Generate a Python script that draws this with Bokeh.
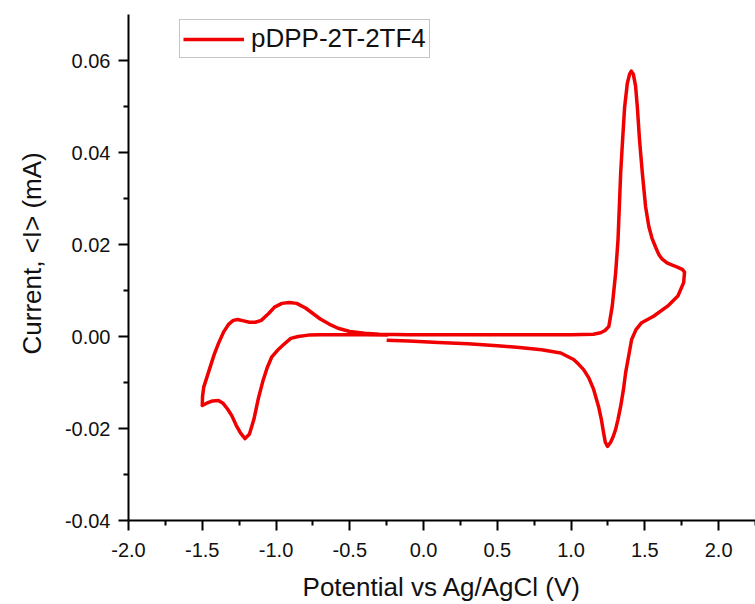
from bokeh.plotting import figure
from bokeh.models import FixedTicker, NumeralTickFormatter, Range1d, Title
from bokeh.embed import file_html
from bokeh.resources import INLINE

# Cyclic voltammogram of pDPP-2T-2TF4 (potential in V vs Ag/AgCl, current in mA)
potential = [
    -0.24, -0.40, -0.55, -0.70, -0.78, -0.85, -0.90, -0.95, -0.99, -1.03,
    -1.06, -1.09, -1.12, -1.15, -1.18, -1.21, -1.24, -1.27, -1.30, -1.33,
    -1.36, -1.39, -1.43, -1.47, -1.50,
    -1.498, -1.49, -1.47, -1.445, -1.42, -1.39, -1.355, -1.32, -1.29, -1.26,
    -1.22, -1.18, -1.14, -1.10, -1.05, -1.01, -0.96, -0.91, -0.86, -0.80,
    -0.75, -0.70, -0.64, -0.58, -0.50, -0.40, -0.30, -0.10, 0.20, 0.60,
    1.00, 1.15, 1.20, 1.23, 1.256, 1.279, 1.302, 1.318, 1.327, 1.336,
    1.349, 1.363, 1.381, 1.396, 1.408, 1.422, 1.437, 1.449, 1.464, 1.483,
    1.505, 1.527, 1.548, 1.573, 1.595, 1.618, 1.65, 1.686, 1.72, 1.754, 1.769,
    1.763, 1.724, 1.654, 1.559, 1.478, 1.44, 1.41, 1.39, 1.37, 1.355,
    1.336, 1.318, 1.302, 1.285, 1.268, 1.247, 1.232, 1.22, 1.205, 1.186,
    1.153, 1.12, 1.085, 1.05, 1.017, 0.93, 0.80, 0.65, 0.50, 0.30,
    0.10, -0.10, -0.25,
]
current = [
    0.0003, 0.0004, 0.0004, 0.0004, 0.0003, 0.0000, -0.0004, -0.0018, -0.0030, -0.0045,
    -0.0068, -0.0098, -0.0135, -0.0180, -0.0212, -0.0222, -0.0210, -0.0193, -0.0172, -0.0157,
    -0.0145, -0.0139, -0.0140, -0.0145, -0.0150,
    -0.0130, -0.0110, -0.0090, -0.0065, -0.0040, -0.0015, 0.0010, 0.0027, 0.0035, 0.0037,
    0.0034, 0.0031, 0.0031, 0.0035, 0.0050, 0.0064, 0.0072, 0.0074, 0.0072, 0.0062,
    0.0050, 0.0038, 0.0027, 0.0018, 0.0011, 0.0007, 0.0005, 0.0004, 0.0004, 0.0004,
    0.0004, 0.0005, 0.0008, 0.0013, 0.0022, 0.0066, 0.0138, 0.0210, 0.0282, 0.0355,
    0.0427, 0.0499, 0.0550, 0.0570, 0.0577, 0.0570, 0.0545, 0.0499, 0.0427, 0.0355,
    0.0282, 0.0239, 0.0214, 0.0194, 0.0178, 0.0168, 0.0160, 0.0155, 0.0151, 0.0146, 0.0140,
    0.0117, 0.0088, 0.0066, 0.0044, 0.0030, 0.0015, -0.0007, -0.0043, -0.0078, -0.0115,
    -0.0152, -0.0180, -0.0202, -0.0218, -0.0230, -0.0239, -0.0230, -0.0209, -0.0180, -0.0152,
    -0.0115, -0.0090, -0.0072, -0.0060, -0.0050, -0.0036, -0.0029, -0.0024, -0.0020, -0.0016,
    -0.0013, -0.0010, -0.0008,
]

series_name = "pDPP-2T-2TF4"
x_title = "Potential vs Ag/AgCl (V)"
y_title = "Current, <I> (mA)"
x_ticks = [-2.0, -1.5, -1.0, -0.5, 0.0, 0.5, 1.0, 1.5, 2.0]
x_minor = [-1.75, -1.25, -0.75, -0.25, 0.25, 0.75, 1.25, 1.75, 2.25]
y_ticks = [-0.04, -0.02, 0.00, 0.02, 0.04, 0.06]
y_minor = [-0.03, -0.01, 0.01, 0.03, 0.05]

FONT = "Liberation Sans"
INK = "#111111"

p = figure(
    width=755, height=604,
    output_backend="svg", toolbar_location=None,
    x_range=Range1d(-2.0, 2.25), y_range=Range1d(-0.04, 0.07),
    min_border_left=128, min_border_right=0,
    min_border_top=14, min_border_bottom=83,
    background_fill_color="white", border_fill_color="white",
)
p.outline_line_color = None
p.grid.visible = False

p.line(potential, current, line_color="#f00000", line_width=3.5,
       line_join="round", legend_label=series_name)

for ax in (p.xaxis[0], p.yaxis[0]):
    ax.axis_line_width = 2
    ax.axis_line_color = "black"
    ax.major_tick_line_width = 2
    ax.minor_tick_line_width = 2
    ax.major_tick_out = 10
    ax.major_tick_in = 0
    ax.minor_tick_out = 5
    ax.minor_tick_in = 0
    ax.major_label_text_font = FONT
    ax.major_label_text_font_size = "20px"
    ax.major_label_text_color = INK
    ax.axis_label_text_font = FONT
    ax.axis_label_text_font_size = "26px"
    ax.axis_label_text_font_style = "normal"
    ax.axis_label_text_color = INK

p.xaxis[0].ticker = FixedTicker(ticks=x_ticks, minor_ticks=x_minor)
p.xaxis[0].formatter = NumeralTickFormatter(format="0.0")
p.xaxis[0].axis_label = x_title
p.xaxis[0].major_label_standoff = 12
p.xaxis[0].axis_label_standoff = 12

p.yaxis[0].ticker = FixedTicker(ticks=y_ticks, minor_ticks=y_minor)
p.yaxis[0].formatter = NumeralTickFormatter(format="0.00")
p.yaxis[0].major_label_standoff = 8

# vertical axis title, anchored from the bottom of the frame and shifted upward
p.add_layout(Title(
    text=y_title, align="left", offset=166, standoff=26, vertical_align="top",
    text_font=FONT, text_font_size="26px", text_font_style="normal",
    text_color=INK,
), "left")

leg = p.legend[0]
leg.location = (51, 462)
leg.border_line_color = "#8a8a8a"
leg.border_line_width = 1
leg.background_fill_color = "white"
leg.background_fill_alpha = 1.0
leg.padding = 3
leg.margin = 0
leg.glyph_width = 61
leg.label_standoff = 7
leg.label_text_font = FONT
leg.label_text_font_size = "26px"
leg.label_text_color = INK

open("out.html", "w").write(file_html(p, INLINE))
